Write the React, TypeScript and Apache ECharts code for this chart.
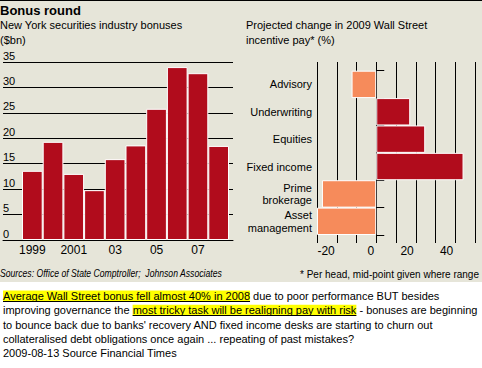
import React, { useEffect, useRef } from "react";
import * as echarts from "echarts";

// ---- Data ----
const years = ["1999", "2000", "2001", "2002", "2003", "2004", "2005", "2006", "2007", "2008"];
const yearTickLabels = ["1999", "", "2001", "", "03", "", "05", "", "07", ""];
const bonusValues = [13.6, 19.3, 13.0, 9.8, 15.9, 18.6, 25.8, 34.0, 32.8, 18.5];

const businessLines = ["Advisory", "Underwriting", "Equities", "Fixed income", "Prime\nbrokerage", "Asset\nmanagement"];
const payChange = [-12.5, 17.2, 24.8, 44.2, -27.5, -30];
const changeTickLabels = ["-20", "0", "20", "40"];

const FONT = "'Liberation Sans', Arial, sans-serif";
const RED = "#b10c1c";
const ORANGE = "#f68b5b";
const BEIGE = "#e6e5d9";

const hl1 = "Average Wall Street bonus fell almost 40% in 2008";
const hl2Prefix = "improving governance the ";
const hl2 = "most tricky task will be realigning pay with risk";
const noteText =
  `{hl|${hl1}} due to poor performance BUT besides\n` +
  `${hl2Prefix}{hl|${hl2}} - bonuses are beginning\n` +
  "to bounce back due to banks' recovery AND fixed income desks are starting to churn out\n" +
  "collateralised debt obligations once again ... repeating of past mistakes?\n" +
  "2009-08-13 Source Financial Times";

export default function App() {
  const ref = useRef<HTMLDivElement>(null);

  useEffect(() => {
    if (!ref.current) return;
    const chart = echarts.init(ref.current, null, { renderer: "svg" });
    const noteFont = `11px ${FONT}`;
    const ctx = document.createElement("canvas").getContext("2d")!;
    ctx.font = noteFont;
    const w = (s: string) => ctx.measureText(s).width;
    const noteX = 3, noteY = 289, lh = 14.2;
    const ul = (x1: number, x2: number, y: number) => ({
      type: "line", z: 10,
      shape: { x1, y1: y, x2, y2: y },
      style: { stroke: "#000", lineWidth: 1 },
    });
    const txt = (text: string, x: number, y: number, font: string, extra: any = {}) => ({
      type: "text",
      x, y, ...extra,
      style: {
        text, x: 0, y: 0, font, fill: "#000",
        textVerticalAlign: "middle", verticalAlign: "middle",
      },
    });
    chart.setOption({
      animation: false,
      textStyle: { fontFamily: FONT, color: "#000" },
      grid: [
        { left: 0, top: 62, width: 233, height: 178 },
        { left: 22, top: 62, width: 207, height: 178 },
        { left: 317, top: 62, width: 158, height: 181 },
        { left: 317, top: 70.7, width: 158, height: 164.3 },
      ],
      xAxis: [
        {
          gridIndex: 0, type: "value", min: 0, max: 1, z: 5,
          axisLine: { show: true, onZero: false, lineStyle: { color: "#000", width: 1 } },
          axisTick: { show: false }, axisLabel: { show: false }, splitLine: { show: false },
        },
        {
          gridIndex: 1, type: "category", data: years,
          axisLine: { show: false }, axisTick: { show: false },
          axisLabel: {
            interval: 0, margin: 4, fontSize: 12, color: "#000", fontFamily: FONT,
            formatter: (_v: string, i: number) => yearTickLabels[i],
          },
        },
        {
          gridIndex: 2, type: "value", min: -30, max: 50, interval: 10,
          axisLine: { show: false, onZero: false }, axisTick: { show: false },
          splitLine: { show: true, lineStyle: { color: "#000", width: 1 } },
          axisLabel: {
            margin: 2, fontSize: 12, color: "#000", fontFamily: FONT, align: "right",
            padding: [0, 2, 0, 0],
            formatter: (v: number) => (changeTickLabels.includes(String(v)) ? String(v) : ""),
          },
        },
        { gridIndex: 3, type: "value", min: -30, max: 50, interval: 10, show: false },
      ],
      yAxis: [
        {
          gridIndex: 0, type: "value", min: 0, max: 35, interval: 5,
          axisLine: { show: false }, axisTick: { show: false },
          splitLine: { show: true, lineStyle: { color: "#000", width: 1 } },
          axisLabel: {
            inside: true, margin: 0, align: "left", verticalAlign: "bottom",
            fontSize: 11, color: "#000", fontFamily: FONT, padding: [0, 0, 1, 0],
          },
        },
        { gridIndex: 1, type: "value", min: 0, max: 35, show: false },
        { gridIndex: 2, type: "value", min: 0, max: 1, show: false },
        {
          gridIndex: 3, type: "category", data: businessLines, inverse: true,
          axisLine: { show: false },
          axisTick: { show: true, inside: true, length: 8, lineStyle: { color: "#000", width: 1 } },
          axisLabel: { margin: 5, fontSize: 11, lineHeight: 12.5, color: "#000", fontFamily: FONT },
        },
      ],
      series: [
        {
          type: "bar", xAxisIndex: 1, yAxisIndex: 1, data: bonusValues,
          barCategoryGap: "0%",
          itemStyle: { color: RED, borderColor: "#fff", borderWidth: 1 },
        },
        {
          type: "bar", xAxisIndex: 3, yAxisIndex: 3,
          data: payChange.map((v) => ({ value: v, itemStyle: { color: v < 0 ? ORANGE : RED } })),
          barCategoryGap: "0%",
          itemStyle: { borderColor: "#fff", borderWidth: 1 },
        },
      ],
      graphic: [
        txt("Bonus round", 0, 10, `bold 13px ${FONT}`),
        txt("New York securities industry bonuses", 0, 25, `11px ${FONT}`),
        txt("($bn)", 0, 40, `11px ${FONT}`),
        txt("Projected change in 2009 Wall Street", 246, 25, `11px ${FONT}`),
        txt("incentive pay* (%)", 246, 40, `11px ${FONT}`),
        txt("Sources: Office of State Comptroller;  Johnson Associates", 0, 274, `italic 10px ${FONT}`, { scaleX: 0.865 }),
        txt("* Per head, mid-point given where range", 300, 274, `10px ${FONT}`),
        {
          type: "text",
          style: {
            text: noteText, x: noteX, y: noteY, font: noteFont, fill: "#000",
            lineHeight: lh, textVerticalAlign: "top", verticalAlign: "top",
            rich: {
              hl: { backgroundColor: "#ffff00", font: noteFont, fill: "#000", lineHeight: lh },
            },
          },
        },
        ul(noteX, noteX + w(hl1), Math.round(noteY + lh / 2 + 5) + 0.5),
        ul(noteX + w(hl2Prefix), noteX + w(hl2Prefix) + w(hl2), Math.round(noteY + lh * 1.5 + 5) + 0.5),
      ],
    });
    return () => chart.dispose();
  }, []);

  return (
    <div style={{ position: "absolute", left: 0, top: 0, width: 482, height: 368, background: "#fff" }}>
      <div style={{ position: "absolute", left: 0, top: 0, width: 482, height: 282, background: BEIGE, borderTop: "1px solid #000", boxSizing: "border-box" }} />
      <div ref={ref} style={{ position: "absolute", left: 0, top: 0, width: 482, height: 368 }} />
    </div>
  );
}
